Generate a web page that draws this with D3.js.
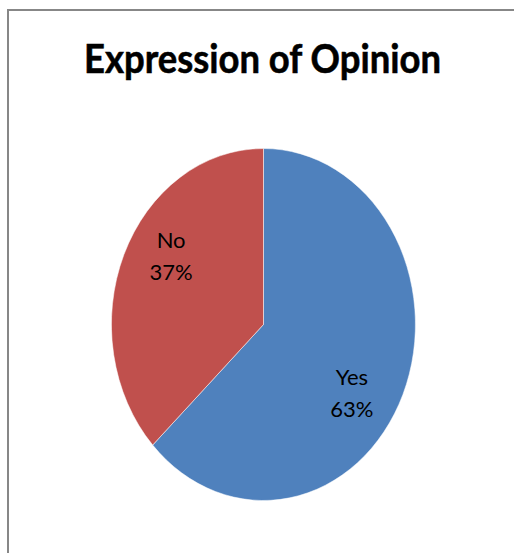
<!DOCTYPE html>
<html>
<head>
<meta charset="utf-8">
<script src="https://cdn.jsdelivr.net/npm/d3@7/dist/d3.min.js"></script>
<style>
  body { margin: 0; background: #fff; }
  svg { display: block; }
</style>
</head>
<body>
<svg id="chart" width="514" height="553"></svg>
<script>
// data
var categories = ["Yes", "No"];
var values = [63, 37];
var colors = ["#4F81BD", "#C0504D"];
var title = "Expression of Opinion";

var svg = d3.select("#chart");

// outer frame (right and bottom edges fall outside the window)
svg.append("rect")
  .attr("x", 8)
  .attr("y", 10)
  .attr("width", 540)
  .attr("height", 580)
  .style("fill", "#fff")
  .style("stroke", "#878787")
  .style("stroke-width", 2);

svg.append("text")
  .attr("x", 262.5)
  .attr("y", 73)
  .attr("text-anchor", "middle")
  .attr("textLength", 357)
  .attr("lengthAdjust", "spacingAndGlyphs")
  .style("font-family", "Lato, 'Open Sans', sans-serif")
  .style("font-weight", "bold")
  .style("font-size", "41px")
  .style("fill", "#000")
  .style("stroke", "#000")
  .style("stroke-width", 0.6)
  .text(title);

// the pie is stretched to an ellipse, so draw on a unit circle and scale
var cx = 263.5, cy = 324.5, rx = 152, ry = 176;

var pie = d3.pie().sort(null).value(function(d) { return d; });
var arcs = pie(values);

var arc = d3.arc().innerRadius(0).outerRadius(1);
var labelShift = 0.17; // radians, excel nudges labels clockwise
var labelArc = d3.arc().innerRadius(0.71).outerRadius(0.71);

var g = svg.append("g")
  .attr("transform", "translate(" + cx + "," + cy + ")");

g.append("g")
  .attr("transform", "scale(" + rx + "," + ry + ")")
  .selectAll("path")
  .data(arcs)
  .enter().append("path")
  .attr("d", arc)
  .style("fill", function(d, i) { return colors[i]; })
  .style("stroke", "#ffffff")
  .style("stroke-opacity", 0.5)
  .style("stroke-width", 1)
  .attr("vector-effect", "non-scaling-stroke");

var labels = g.selectAll(".lbl")
  .data(arcs)
  .enter().append("text")
  .attr("class", "lbl")
  .attr("text-anchor", "middle")
  .attr("transform", function(d) {
    var c = labelArc.centroid({startAngle: d.startAngle + labelShift, endAngle: d.endAngle + labelShift});
    return "translate(" + (c[0] * rx - 2) + "," + (c[1] * ry) + ")";
  })
  .style("font-family", "Lato, 'Open Sans', sans-serif")
  .style("font-size", "22px")
  .style("fill", "#000");

labels.append("tspan")
  .attr("x", 0)
  .attr("y", -8)
  .text(function(d, i) { return categories[i]; });

labels.append("tspan")
  .attr("x", 0)
  .attr("y", 24)
  .text(function(d) { return d.data + "%"; });
</script>
</body>
</html>
